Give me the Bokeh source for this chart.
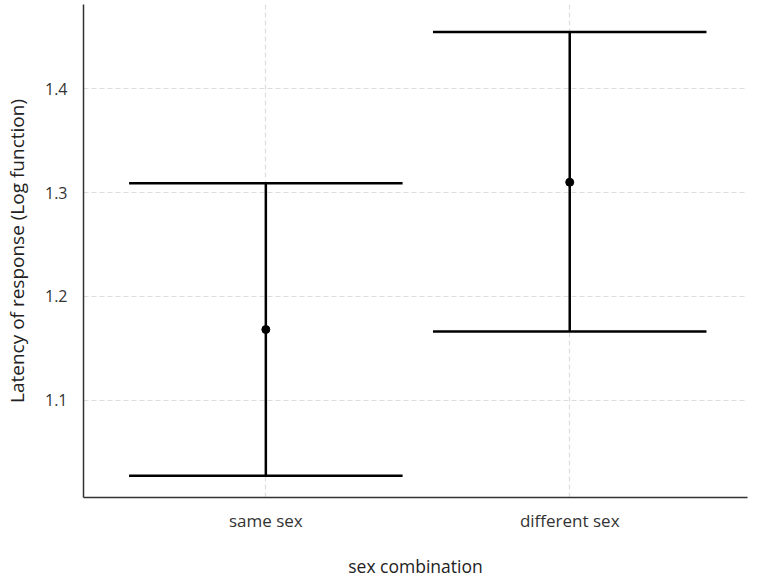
from bokeh.plotting import figure
from bokeh.models import Range1d, FixedTicker
from bokeh.embed import file_html
from bokeh.resources import INLINE

# Data
categories = ["same sex", "different sex"]
means = [1.168, 1.310]
lower = [1.027, 1.166]
upper = [1.309, 1.455]
y_ticks = [1.1, 1.2, 1.3, 1.4]

xpos = [i + 0.5 for i in range(len(categories))]
cap_half = 0.45

p = figure(frame_width=664, frame_height=493, output_backend="svg", toolbar_location=None,
           x_range=Range1d(-0.1, 2.085), y_range=Range1d(1.006, 1.4814),
           min_border_left=79, min_border_right=5, min_border_top=4, min_border_bottom=66)
p.outline_line_color = None
p.background_fill_color = "white"

# error bars
p.segment(x0=xpos, y0=lower, x1=xpos, y1=upper, line_color="black", line_width=2.5)
p.segment(x0=[x - cap_half for x in xpos], y0=upper, x1=[x + cap_half for x in xpos], y1=upper,
          line_color="black", line_width=2.5)
p.segment(x0=[x - cap_half for x in xpos], y0=lower, x1=[x + cap_half for x in xpos], y1=lower,
          line_color="black", line_width=2.5)
p.scatter(x=xpos, y=means, size=8, color="black")

# axes
p.xaxis.ticker = FixedTicker(ticks=xpos)
p.xaxis.major_label_overrides = {x: c for x, c in zip(xpos, categories)}
p.yaxis.ticker = FixedTicker(ticks=y_ticks)
p.yaxis.major_label_overrides = {t: f"{t:.1f}" for t in y_ticks}

for ax in (p.xaxis[0], p.yaxis[0]):
    ax.major_tick_line_color = None
    ax.minor_tick_line_color = None
    ax.axis_line_color = "#333333"
    ax.axis_line_width = 1.5
    ax.major_label_text_font = "Open Sans"
    ax.major_label_text_color = "#333333"
    ax.axis_label_text_font = "Open Sans"
    ax.axis_label_text_font_style = "normal"
    ax.axis_label_text_color = "#222222"

p.xaxis.major_label_text_font_size = "17px"
p.yaxis.major_label_text_font_size = "16px"
p.xaxis.axis_label_text_font_size = "17.5px"
p.yaxis.axis_label_text_font_size = "19px"
p.xaxis.axis_label = "sex combination"
p.yaxis.axis_label = "Latency of response (Log function)"
p.xaxis.major_label_standoff = 5
p.xaxis.axis_label_standoff = 19
p.yaxis.major_label_standoff = 10
p.yaxis.axis_label_standoff = 12

for g in (p.xgrid[0], p.ygrid[0]):
    g.grid_line_color = "#dddddd"
    g.grid_line_dash = "5 3"
    g.grid_line_width = 1.2

open("out.html", "w").write(file_html(p, INLINE))
